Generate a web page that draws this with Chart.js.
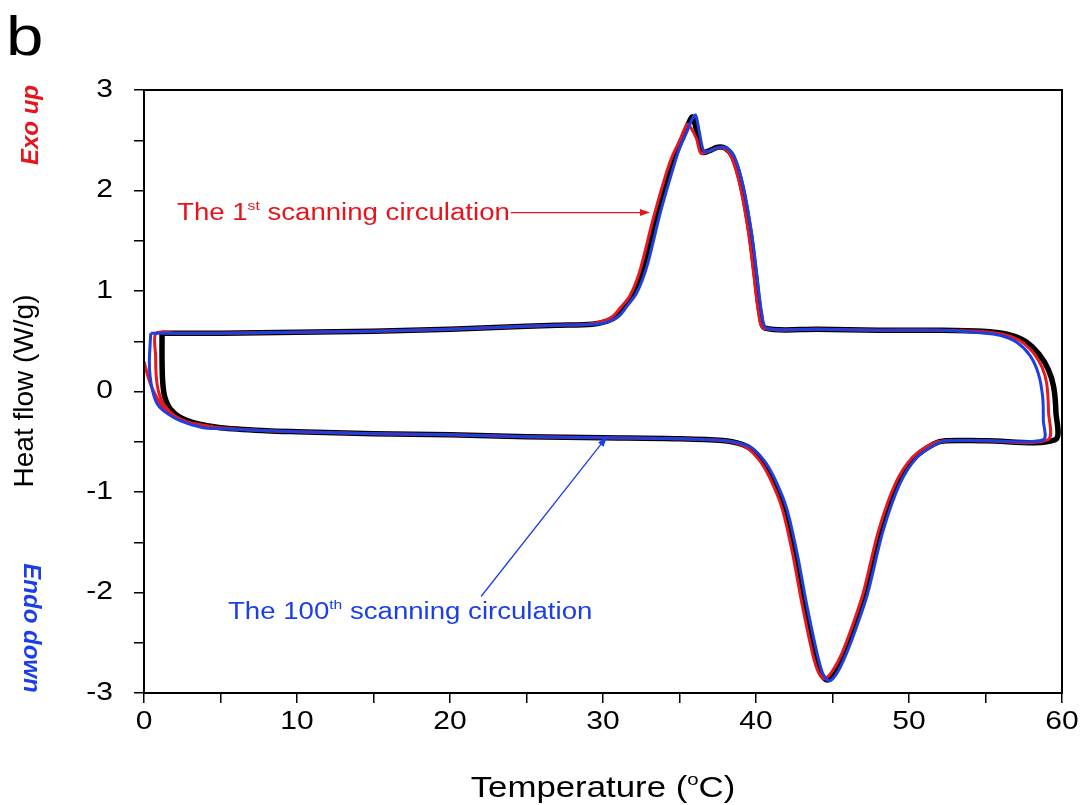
<!DOCTYPE html>
<html>
<head>
<meta charset="utf-8">
<script src="https://cdn.jsdelivr.net/npm/chart.js@4"></script>
<style>
  html, body { margin: 0; padding: 0; background: #fff; }
  #wrap { width: 1082px; height: 805px; position: relative; }
</style>
</head>
<body>
<div id="wrap"><canvas id="myChart"></canvas></div>
<script>
// axis ticks
const xTicks = [0, 10, 20, 30, 40, 50, 60];
const yTicks = [-3, -2, -1, 0, 1, 2, 3];
const xMinor = [0, 5, 10, 15, 20, 25, 30, 35, 40, 45, 50, 55, 60];
const yMinor = [-3, -2.5, -2, -1.5, -1, -0.5, 0, 0.5, 1, 1.5, 2, 2.5, 3];

// 1st scanning circulation (red)
const red1stT = [0, 0.28, 0.6, 1.25, 2.2, 3.5, 5, 8, 10, 15, 20, 25, 30, 35, 38, 39.3, 40.2, 40.9, 41.7, 42.4, 43.0, 43.7, 44.1, 44.5, 45.0, 45.6, 46.3, 47.0, 48.0, 49.1, 50.2, 51.5, 52.3, 55, 59.08,
  59.12, 59.0, 58.7, 58.1, 57.2, 56.1, 54.5, 52, 48, 44, 40.5, 40.17, 39.85, 39.52, 38.97, 38.4, 37.9, 37.4, 36.9, 36.4, 36.1, 35.55, 35.3, 35.02, 34.55, 34.15, 33.28, 32.41, 31.75, 31.12, 30.65, 30.0, 29, 27, 25, 20, 15, 10, 5, 2, 0.78,
  0.76, 0.8, 0.95, 1.3, 2.0, 3.0, 4.5];
const red1stQ = [0.30, 0.14, 0.01, -0.16, -0.27, -0.33, -0.36, -0.39, -0.40, -0.42, -0.43, -0.45, -0.46, -0.47, -0.49, -0.55, -0.68, -0.86, -1.16, -1.62, -2.11, -2.61, -2.80, -2.86, -2.78, -2.61, -2.33, -2.01, -1.39, -0.92, -0.66, -0.52, -0.49, -0.49, -0.48,
  -0.2, 0.08, 0.24, 0.39, 0.51, 0.57, 0.6, 0.61, 0.61, 0.62, 0.63, 0.78, 1.17, 1.57, 2.04, 2.33, 2.42, 2.42, 2.39, 2.37, 2.52, 2.66, 2.60, 2.50, 2.35, 2.18, 1.72, 1.2, 0.95, 0.83, 0.75, 0.70, 0.67, 0.66, 0.65, 0.62, 0.6, 0.59, 0.58, 0.58, 0.58,
  0.35, 0.15, 0.0, -0.13, -0.24, -0.31, -0.35];

// 2nd - 99th circulations (black band)
const blackMidT = [1.18, 1.18, 1.22, 1.35, 1.7, 2.4, 3.5, 5, 8, 10, 15, 20, 25, 30, 35, 38, 39.45, 40.35, 41.05, 41.85, 42.55, 43.15, 43.85, 44.25, 44.65, 45.15, 45.75, 46.45, 47.15, 48.15, 49.25, 50.35, 51.65, 52.4, 55, 59.55,
  59.6, 59.45, 59.1, 58.5, 57.6, 56.4, 54.8, 52, 48, 44, 40.6, 40.27, 39.95, 39.62, 39.07, 38.5, 38.0, 37.5, 37.0, 36.5, 36.2, 35.85, 35.6, 35.27, 34.8, 34.4, 33.53, 32.66, 32.0, 31.37, 30.9, 30.26, 29.3, 27, 25, 20, 15, 10, 5, 2, 1.18];
const blackMidQ = [0.58, 0.3, 0.1, -0.05, -0.17, -0.26, -0.32, -0.36, -0.39, -0.40, -0.42, -0.43, -0.45, -0.46, -0.47, -0.49, -0.55, -0.68, -0.86, -1.16, -1.62, -2.11, -2.61, -2.81, -2.87, -2.79, -2.61, -2.33, -2.01, -1.39, -0.92, -0.66, -0.52, -0.49, -0.49, -0.48,
  -0.2, 0.05, 0.22, 0.37, 0.5, 0.57, 0.6, 0.61, 0.61, 0.62, 0.63, 0.78, 1.17, 1.57, 2.04, 2.33, 2.42, 2.43, 2.40, 2.38, 2.55, 2.73, 2.67, 2.55, 2.38, 2.2, 1.75, 1.22, 0.97, 0.84, 0.75, 0.70, 0.67, 0.66, 0.65, 0.62, 0.6, 0.59, 0.58, 0.58, 0.58];

// 100th scanning circulation (blue)
const blue100T = [0.44, 0.35, 0.4, 0.57, 0.85, 1.26, 2.35, 3.86, 5, 8, 10, 15, 20, 25, 30, 35, 38, 39.6, 40.5, 41.2, 42.0, 42.7, 43.3, 44.0, 44.4, 44.8, 45.3, 45.9, 46.6, 47.3, 48.3, 49.4, 50.5, 51.8, 52.5, 55, 58.78,
  58.78, 58.74, 58.45, 57.9, 57.04, 55.95, 54.64, 52, 48, 44, 40.7, 40.37, 40.05, 39.72, 39.17, 38.6, 38.1, 37.6, 37.1, 36.6, 36.3, 36.05, 35.8, 35.47, 35.0, 34.6, 33.73, 32.86, 32.2, 31.57, 31.1, 30.46, 29.5, 27, 25, 20, 15, 10, 5, 2, 0.44];
const blue100Q = [0.58, 0.3, 0.15, 0.0, -0.12, -0.19, -0.29, -0.36, -0.37, -0.39, -0.40, -0.42, -0.43, -0.45, -0.46, -0.47, -0.49, -0.55, -0.68, -0.86, -1.16, -1.62, -2.11, -2.61, -2.82, -2.88, -2.80, -2.61, -2.33, -2.01, -1.39, -0.92, -0.66, -0.52, -0.49, -0.49, -0.48,
  -0.29, -0.06, 0.18, 0.36, 0.49, 0.56, 0.585, 0.61, 0.61, 0.62, 0.63, 0.78, 1.17, 1.57, 2.04, 2.33, 2.42, 2.43, 2.40, 2.39, 2.58, 2.75, 2.70, 2.58, 2.42, 2.23, 1.77, 1.24, 0.98, 0.85, 0.76, 0.70, 0.67, 0.66, 0.65, 0.62, 0.6, 0.59, 0.58, 0.58, 0.58];

const toPoints = (t, q) => t.map((v, i) => ({ x: v, y: q[i] }));
const FONT = '"Liberation Sans", Arial, sans-serif';
const SX = 1.2; // the original figure is stretched sideways

// draws text runs (some raised as superscripts), stretched by sx; returns end x
function drawRuns(ctx, runs, x, y, sx) {
  for (const [txt, size, dy] of runs) {
    ctx.font = size + 'px ' + FONT;
    ctx.save();
    ctx.translate(x, y + dy);
    ctx.scale(sx, 1);
    ctx.fillText(txt, 0, 0);
    ctx.restore();
    x += ctx.measureText(txt).width * sx;
  }
  return x;
}

function runsWidth(ctx, runs, sx) {
  let w = 0;
  for (const [txt, size] of runs) { ctx.font = size + 'px ' + FONT; w += ctx.measureText(txt).width * sx; }
  return w;
}

function arrow(ctx, x1, y1, x2, y2, color) {
  const ang = Math.atan2(y2 - y1, x2 - x1);
  const c = Math.cos(ang), s = Math.sin(ang);
  ctx.strokeStyle = color;
  ctx.fillStyle = color;
  ctx.lineWidth = 1.3;
  ctx.beginPath();
  ctx.moveTo(x1, y1);
  ctx.lineTo(x2 - 6 * c, y2 - 6 * s);
  ctx.stroke();
  ctx.beginPath();
  ctx.moveTo(x2, y2);
  ctx.lineTo(x2 - 10 * c + 3.5 * s, y2 - 10 * s - 3.5 * c);
  ctx.lineTo(x2 - 10 * c - 3.5 * s, y2 - 10 * s + 3.5 * c);
  ctx.closePath();
  ctx.fill();
}

const labelsPlugin = {
  id: 'dscLabels',
  afterDraw(chart) {
    const { ctx, chartArea: a, scales: { x, y } } = chart;
    ctx.save();
    // frame
    ctx.strokeStyle = '#000';
    ctx.lineWidth = 2;
    ctx.strokeRect(a.left, a.top, a.right - a.left, a.bottom - a.top);

    ctx.fillStyle = '#000';
    ctx.textBaseline = 'alphabetic';

    // tick labels
    ctx.textBaseline = 'middle';
    for (const v of xTicks) {
      const t = [[String(v), 25, 0]];
      drawRuns(ctx, t, x.getPixelForValue(v) - runsWidth(ctx, t, SX) / 2, 722, SX);
    }
    for (const v of yTicks) {
      const t = [[String(v), 25, 0]];
      drawRuns(ctx, t, 113 - runsWidth(ctx, t, SX), y.getPixelForValue(v), SX);
    }
    ctx.textBaseline = 'alphabetic';

    // panel letter
    drawRuns(ctx, [['b', 56, 0]], 6, 55, SX);

    // x title with superscript o
    const parts = [['Temperature (', 29, 0], ['o', 17, -12], ['C)', 29, 0]];
    drawRuns(ctx, parts, 603 - runsWidth(ctx, parts, SX) / 2, 797, SX);

    // y title
    ctx.save();
    ctx.translate(33, 391);
    ctx.rotate(-Math.PI / 2);
    ctx.textAlign = 'center';
    ctx.font = '28px ' + FONT;
    ctx.fillText('Heat flow (W/g)', 0, 0);
    ctx.restore();

    // Exo up / Endo down
    ctx.save();
    ctx.translate(38, 125);
    ctx.rotate(-Math.PI / 2);
    ctx.textAlign = 'center';
    ctx.fillStyle = '#e8141c';
    ctx.font = 'italic bold 24px ' + FONT;
    ctx.fillText('Exo up', 0, 0);
    ctx.restore();
    ctx.save();
    ctx.translate(24, 628);
    ctx.rotate(Math.PI / 2);
    ctx.textAlign = 'center';
    ctx.fillStyle = '#1a3ee8';
    ctx.font = 'italic bold 24px ' + FONT;
    ctx.fillText('Endo down', 0, 0);
    ctx.restore();

    // annotations
    ctx.fillStyle = '#e8141c';
    const rx = drawRuns(ctx, [['The 1', 23, 0], ['st', 13, -10], [' scanning circulation', 23, 0]],
      x.getPixelForValue(2.16), y.getPixelForValue(1.71), SX);
    arrow(ctx, rx + 1, y.getPixelForValue(1.78), x.getPixelForValue(33.07), y.getPixelForValue(1.78), '#e8141c');

    ctx.fillStyle = '#1a3ee8';
    drawRuns(ctx, [['The 100', 23, 0], ['th', 13, -10], [' scanning circulation', 23, 0]],
      x.getPixelForValue(5.49), y.getPixelForValue(-2.26), SX);
    arrow(ctx, x.getPixelForValue(22.03), y.getPixelForValue(-2.04), x.getPixelForValue(30.26), y.getPixelForValue(-0.45), '#1a3ee8');
    ctx.restore();
  }
};

const tickFont = { family: FONT, size: 25 };

new Chart(document.getElementById('myChart'), {
  type: 'scatter',
  data: {
    datasets: [
      { label: '100th', data: toPoints(blue100T, blue100Q), borderColor: '#1f3fe0', borderWidth: 3, order: 0 },
      { label: '1st', data: toPoints(red1stT, red1stQ), borderColor: '#e81820', borderWidth: 3, order: 1 },
      { label: '2nd-99th', data: toPoints(blackMidT, blackMidQ), borderColor: '#000', borderWidth: 5.5, order: 2 },
    ].map(d => Object.assign(d, { showLine: true, pointRadius: 0, tension: 0.3, fill: false })),
  },
  options: {
    responsive: true,
    maintainAspectRatio: false,
    animation: false,
    layout: { padding: { left: 0, top: 90, right: 20, bottom: 0 } },
    plugins: { legend: { display: false }, tooltip: { enabled: false } },
    scales: {
      x: {
        type: 'linear', min: 0, max: 60,
        afterFit: s => { s.height = 112; },
        afterBuildTicks: s => { s.ticks = xMinor.map(v => ({ value: v })); },
        // labels are drawn stretched by the plugin
        ticks: { callback: v => xTicks.includes(v) ? String(v) : '', color: 'rgba(0,0,0,0)', font: tickFont, padding: 6, maxRotation: 0, autoSkip: false },
        grid: { drawOnChartArea: false, drawTicks: true, tickLength: 10, color: '#000', lineWidth: 1.5 },
        border: { display: true, color: '#000', width: 2 },
      },
      y: {
        type: 'linear', min: -3, max: 3,
        afterFit: s => { s.width = 144; },
        afterBuildTicks: s => { s.ticks = yMinor.map(v => ({ value: v })); },
        ticks: { callback: v => yTicks.includes(v) ? String(v) : '', color: 'rgba(0,0,0,0)', font: tickFont, padding: 20, autoSkip: false },
        grid: { drawOnChartArea: false, drawTicks: true, tickLength: 10, color: '#000', lineWidth: 1.5 },
        border: { display: true, color: '#000', width: 2 },
      },
    },
  },
  plugins: [labelsPlugin],
});
</script>
</body>
</html>
